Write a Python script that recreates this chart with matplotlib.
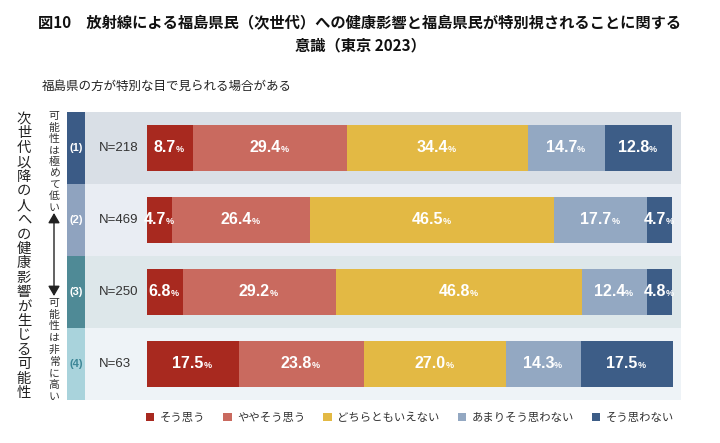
import matplotlib
matplotlib.use("Agg")
import matplotlib.pyplot as plt
from matplotlib.patches import Rectangle, FancyArrowPatch
from matplotlib.transforms import ScaledTranslation

plt.rcParams['font.family'] = ['Noto Sans CJK JP', 'DejaVu Sans']

title = "図10　放射線による福島県民（次世代）への健康影響と福島県民が特別視されることに関する\n意識（東京 2023）"
subtitle = "福島県の方が特別な目で見られる場合がある"
side_label = "次世代以降の人への健康影響が生じる可能性"
low_label = "可能性は極めて低い"
high_label = "可能性は非常に高い"

row_ids = ["(1)", "(2)", "(3)", "(4)"]
row_n = ["N=218", "N=469", "N=250", "N=63"]
categories = ["そう思う", "ややそう思う", "どちらともいえない", "あまりそう思わない", "そう思わない"]
s_agree = [8.7, 4.7, 6.8, 17.5]
s_some = [29.4, 26.4, 29.2, 23.8]
s_neutral = [34.4, 46.5, 46.8, 27.0]
s_notmuch = [14.7, 17.7, 12.4, 14.3]
s_not = [12.8, 4.7, 4.8, 17.5]

colors = ["#a8291f", "#c96a5f", "#e3b944", "#93a8c2", "#3d5d87"]
strip_colors = ["#3b5b86", "#8fa3bf", "#4f8a96", "#a9d3dc"]
strip_text_colors = ["white", "white", "white", "#3e8797"]
band_colors = ["#d9dfe6", "#e9edf3", "#dde7ea", "#eef3f7"]

W, H = 720, 443
fig = plt.figure(figsize=(W / 100, H / 100), dpi=100)

# axes: pixel 67..681 horizontally, 112..400 vertically
px0, px1 = 67, 681
bar0, bar1 = 147, 672
scale = (bar1 - bar0) / 100.0
ax = fig.add_axes([px0 / W, 1 - 400 / H, (px1 - px0) / W, (400 - 112) / H])
ax.set_xlim((px0 - bar0) / scale, (px1 - bar0) / scale)
ax.set_ylim(4, 0)
ax.axis('off')

strip_x0 = (px0 - bar0) / scale
strip_x1 = (85 - bar0) / scale
band_x1 = (px1 - bar0) / scale
for i in range(4):
    ax.add_patch(Rectangle((strip_x0, i), strip_x1 - strip_x0, 1, color=strip_colors[i], lw=0, zorder=0))
    ax.add_patch(Rectangle((strip_x1, i), band_x1 - strip_x1, 1, color=band_colors[i], lw=0, zorder=0))
    ax.text((strip_x0 + strip_x1) / 2, i + 0.5, row_ids[i], ha='center', va='center',
            fontsize=8, color=strip_text_colors[i], fontweight='bold', family=['Liberation Sans', 'DejaVu Sans'])
    ax.text((99 - bar0) / scale, i + 0.5, row_n[i], ha='left', va='center',
            fontsize=9.5, color='#333333', family=['Liberation Sans', 'DejaVu Sans'])

series = [s_agree, s_some, s_neutral, s_notmuch, s_not]
ypos = [i + 0.5 for i in range(4)]
left = [0.0] * 4
handles = []
for k, vals in enumerate(series):
    b = ax.barh(ypos, vals, left=left, height=0.64, color=colors[k], lw=0, zorder=2, label=categories[k])
    handles.append(b)
    for i, v in enumerate(vals):
        cx = left[i] + v / 2
        tr = ax.transData + ScaledTranslation(-3.5 / 72, 0, fig.dpi_scale_trans)
        t = ax.text(cx, ypos[i], f"{v:.1f}", ha='center', va='center', fontsize=11.5,
                    fontweight='bold', color='white', transform=tr, zorder=3,
                    family=['Liberation Sans', 'DejaVu Sans'])
        ax.annotate('%', xy=(1.0, 0.12), xycoords=t, ha='left', va='bottom', fontsize=6.5,
                    fontweight='bold', color='white', zorder=3, family=['Liberation Sans', 'DejaVu Sans'])
    left = [l + v for l, v in zip(left, vals)]

# titles
fig.text(0.5, 1 - 34 / H, title, ha='center', va='center', fontsize=11, fontweight='bold',
         color='#111111', linespacing=1.6)
fig.text(42 / W, 1 - 86 / H, subtitle, ha='left', va='center', fontsize=9, color='#222222')


def vtext(x_px, y_first, y_last, s, size, color):
    n = len(s)
    step = (y_last - y_first) / (n - 1)
    for j, ch in enumerate(s):
        fig.text(x_px / W, 1 - (y_first + j * step) / H, ch, ha='center', va='center',
                 fontsize=size, color=color)


vtext(24, 119, 393, side_label, 10.3, '#222222')
vtext(54, 116, 208, low_label, 7.8, '#333333')
vtext(54, 303, 397, high_label, 7.8, '#333333')
arrow = FancyArrowPatch((54 / W, 1 - 213 / H), (54 / W, 1 - 296 / H), transform=fig.transFigure,
                        arrowstyle='<|-|>,head_length=6,head_width=3.5', color='#222222', lw=1.0,
                        mutation_scale=1, shrinkA=0, shrinkB=0)
fig.add_artist(arrow)

fig.legend(handles=handles, labels=categories, loc='center', bbox_to_anchor=(410 / W, 1 - 418 / H),
           ncol=5, frameon=False, fontsize=8.2, handlelength=0.75, handleheight=0.75,
           handletextpad=0.5, columnspacing=1.55, labelcolor='#333333')

fig.savefig("out.png", dpi=100)
